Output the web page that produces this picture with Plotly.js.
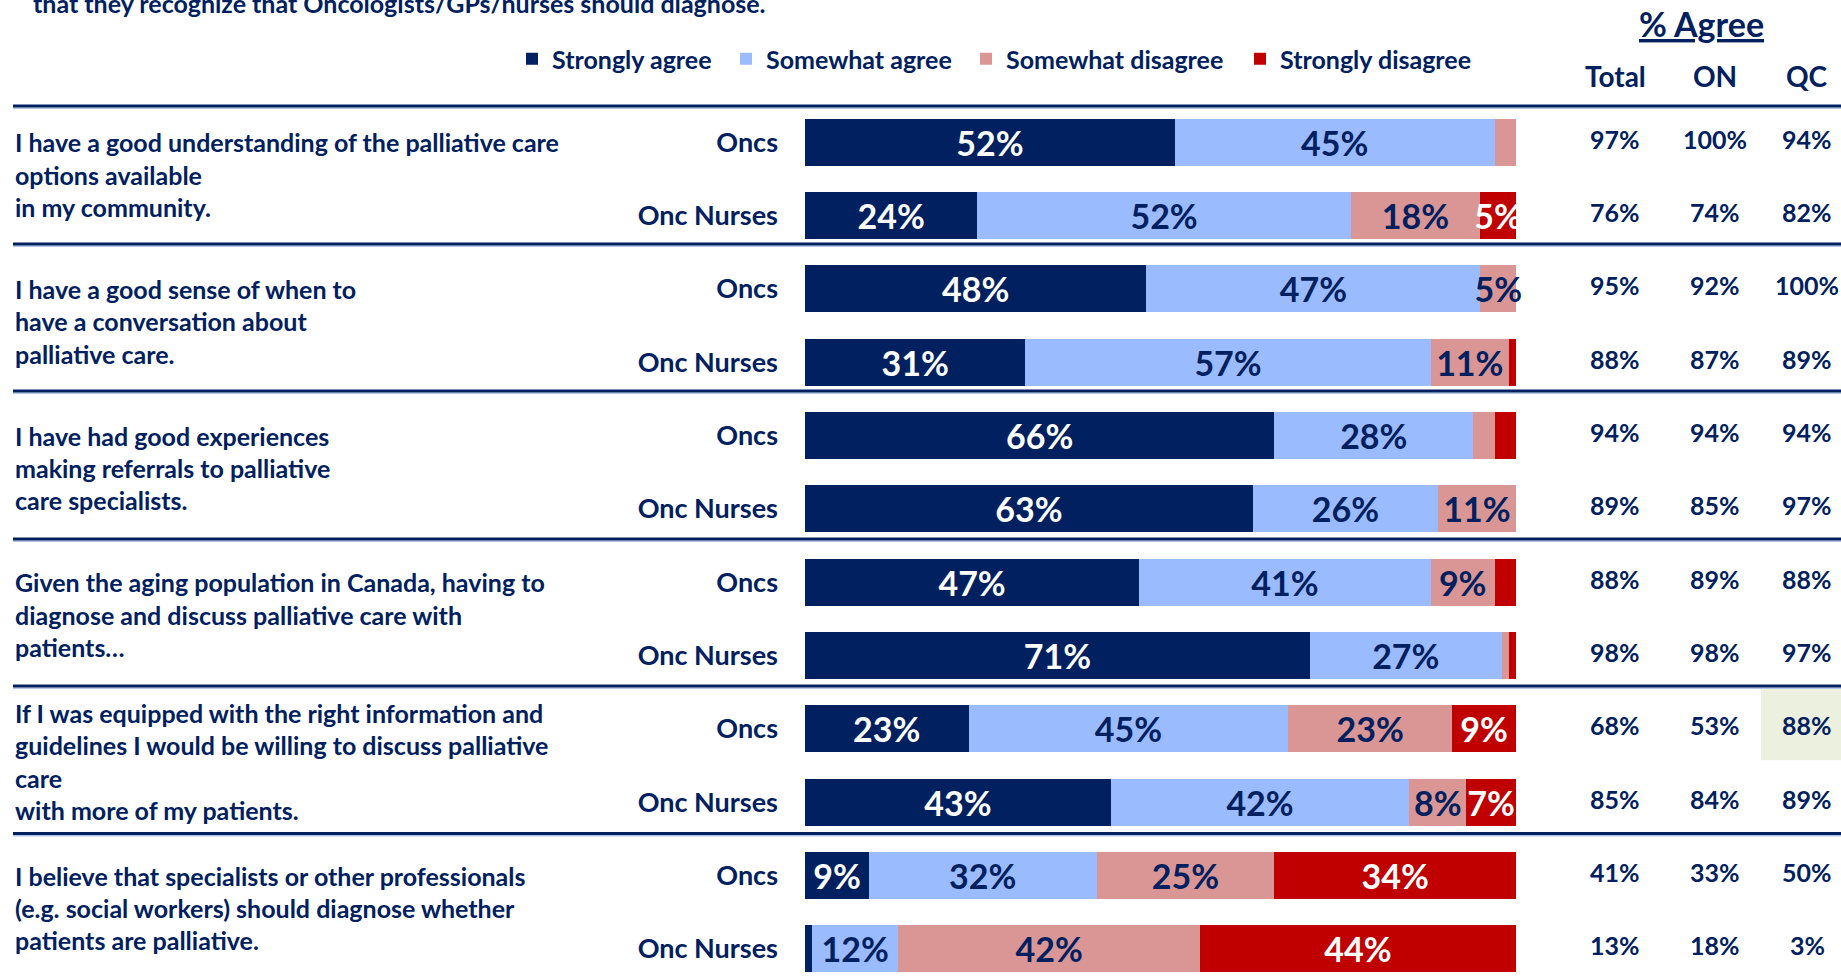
<!DOCTYPE html>
<html>
<head>
<meta charset="utf-8">
<script src="https://cdn.plot.ly/plotly-3.0.1.min.js"></script>
<style>
  html, body { margin: 0; padding: 0; background: #ffffff; }
  #chart { width: 1841px; height: 976px; }
</style>
</head>
<body>
<div id="chart"></div>
<script>
// ---------------- DATA ----------------
const seriesNames = ['Strongly agree', 'Somewhat agree', 'Somewhat disagree', 'Strongly disagree'];
const respondentGroups = ['Oncs', 'Onc Nurses'];

const questions = [
  ['I have a good understanding of the palliative care', 'options available', 'in my community.'],
  ['I have a good sense of when to', 'have a conversation about', 'palliative care.'],
  ['I have had good experiences', 'making referrals to palliative', 'care specialists.'],
  ['Given the aging population in Canada, having to', 'diagnose and discuss palliative care with', 'patients…'],
  ['If I was equipped with the right information and', 'guidelines I would be willing to discuss palliative', 'care', 'with more of my patients.'],
  ['I believe that specialists or other professionals', '(e.g. social workers) should diagnose whether', 'patients are palliative.']
];

// one value per bar row: Oncs, Onc Nurses for each statement (top to bottom)
const stronglyAgree     = [52, 24, 48, 31, 66, 63, 47, 71, 23, 43,  9,  1];
const somewhatAgree     = [45, 52, 47, 57, 28, 26, 41, 27, 45, 42, 32, 12];
const somewhatDisagree  = [ 3, 18,  5, 11,  3, 11,  9,  1, 23,  8, 25, 42];
const stronglyDisagree  = [ 0,  5,  0,  1,  3,  0,  3,  1,  9,  7, 34, 44];

const tableHeaders = ['Total', 'ON', 'QC'];
const agreeTotal = [97, 76, 95, 88, 94, 89, 88, 98, 68, 85, 41, 13];
const agreeON    = [100, 74, 92, 87, 94, 85, 89, 98, 53, 84, 33, 18];
const agreeQC    = [94, 82, 100, 89, 94, 97, 88, 97, 88, 89, 50, 3];
const highlightedCell = {row: 8, column: 2};

const headline = 'that they recognize that Oncologists/GPs/nurses should diagnose.';
const tableTitle = '% Agree';

// ---------------- STYLE ----------------
const W = 1841, H = 976;
const NAVY = '#002060';
const colors = ['#002060', '#9BBBFF', '#D99694', '#C00000'];
const labelColors = ['#ffffff', NAVY, NAVY, '#ffffff'];
const FONT = 'Lato, "Open Sans", "Noto Sans", sans-serif';
const px = v => v / W;          // x pixel -> paper
const py = v => 1 - v / H;      // y pixel (from top) -> paper

const rowIdx = stronglyAgree.map((_, i) => i);
const seriesValues = [stronglyAgree, somewhatAgree, somewhatDisagree, stronglyDisagree];

const traces = seriesValues.map((vals, s) => ({
  type: 'bar',
  orientation: 'h',
  name: seriesNames[s],
  legend: s === 0 ? 'legend' : 'legend' + (s + 1),
  y: rowIdx,
  x: vals,
  marker: {color: colors[s], line: {width: 0}},
  text: vals.map(v => v >= 5 ? v + '%' : ''),
  textposition: 'inside',
  insidetextanchor: 'middle',
  textangle: 0,
  constraintext: 'none',
  cliponaxis: false,
  textfont: {family: FONT, size: 34, color: labelColors[s], weight: 700},
  insidetextfont: {family: FONT, size: 34, color: labelColors[s], weight: 700},
  outsidetextfont: {family: FONT, size: 34, color: labelColors[s], weight: 700},
  hovertemplate: '%{fullData.name}: %{x:.0f}%<extra></extra>'
}));

// a hair-thin invisible cap on each stack so the last real segment keeps its inside label
traces.push({
  type: 'bar', orientation: 'h', y: rowIdx, x: rowIdx.map(() => 1e-6),
  showlegend: false, hoverinfo: 'skip', marker: {color: 'rgba(0,0,0,0)', line: {width: 0}}
});

const annotations = [];
const shapes = [];

// headline (cut at top)
annotations.push({
  xref: 'paper', yref: 'paper', x: px(31), y: py(3), xanchor: 'left', yanchor: 'middle',
  text: headline, showarrow: false, font: {family: FONT, size: 25, color: NAVY, weight: 700}
});

// statement texts
const LINE_STEP = 0.44;
questions.forEach((lines, g) => {
  const center = 2 * g + 0.5 - 0.055;
  lines.forEach((ln, k) => {
    annotations.push({
      xref: 'paper', yref: 'y', x: px(13), y: center + (k - (lines.length - 1) / 2) * LINE_STEP,
      xanchor: 'left', yanchor: 'middle', align: 'left', showarrow: false,
      text: ln, font: {family: FONT, size: 25, color: NAVY, weight: 700}
    });
  });
});

// table title & headers
annotations.push({
  xref: 'paper', yref: 'paper', x: px(1701), y: py(23), xanchor: 'center', yanchor: 'middle',
  text: '<u>' + tableTitle + '</u>', showarrow: false, font: {family: FONT, size: 34, color: NAVY, weight: 700}
});
const colX = [1615, 1715, 1807];
tableHeaders.forEach((h, c) => {
  annotations.push({
    xref: 'paper', yref: 'paper', x: px(colX[c]), y: py(76), xanchor: 'center', yanchor: 'middle',
    text: h, showarrow: false, font: {family: FONT, size: 28, color: NAVY, weight: 700}
  });
});
[agreeTotal, agreeON, agreeQC].forEach((col, c) => {
  col.forEach((v, r) => {
    annotations.push({
      xref: 'paper', yref: 'y', x: px(colX[c]), y: r - 0.045, xanchor: 'center', yanchor: 'middle',
      text: v + '%', showarrow: false, font: {family: FONT, size: 25, color: NAVY, weight: 700}
    });
  });
});

// highlighted table cell
shapes.push({
  type: 'rect', layer: 'below', xref: 'paper', yref: 'y',
  x0: px(1761), x1: 1, y0: highlightedCell.row - 0.555, y1: highlightedCell.row + 0.43,
  fillcolor: '#EBF1DE', line: {width: 0}
});

// separators between statements (dark rule with a pale blue underline)
const SEP_PX = [106, 244, 391, 539, 686, 833.5];
SEP_PX.forEach(p => {
  shapes.push({
    type: 'line', xref: 'paper', yref: 'paper', x0: px(13), x1: 1, y0: py(p + 2.2), y1: py(p + 2.2),
    line: {color: '#B4C6E7', width: 1.5}
  });
  shapes.push({
    type: 'line', xref: 'paper', yref: 'paper', x0: px(13), x1: 1, y0: py(p), y1: py(p),
    line: {color: NAVY, width: 3}
  });
});

// legends (one per series, placed like the original)
const legendLeft = [526, 740, 980, 1254];
const legendBase = {
  orientation: 'h', xanchor: 'left', yanchor: 'middle', y: py(59),
  bgcolor: 'rgba(0,0,0,0)', borderwidth: 0,
  font: {family: FONT, size: 25, color: NAVY, weight: 700}
};

const layout = {
  width: W, height: H,
  margin: {l: 0, r: 0, t: 0, b: 0, pad: 0},
  paper_bgcolor: '#ffffff', plot_bgcolor: '#ffffff',
  barmode: 'stack', barnorm: 'percent', bargap: 0.36,
  showlegend: true,
  xaxis: {domain: [px(805), px(1516)], range: [0, 100], showgrid: false, zeroline: false,
          showticklabels: false, showline: false, fixedrange: true},
  yaxis: {domain: [0, 1], range: [11.372, -1.938], showgrid: false, zeroline: false, showline: false,
          tickmode: 'array', tickvals: rowIdx, ticktext: rowIdx.map(i => respondentGroups[i % 2]),
          ticks: '', ticklabelstandoff: 26,
          tickfont: {family: FONT, size: 27, color: NAVY, weight: 700}, fixedrange: true},
  annotations: annotations,
  shapes: shapes
};
legendLeft.forEach((l, s) => {
  layout[s === 0 ? 'legend' : 'legend' + (s + 1)] = Object.assign({}, legendBase, {x: px(l - 14)});
});

Plotly.newPlot('chart', traces, layout, {displayModeBar: false, responsive: false});
</script>
</body>
</html>
